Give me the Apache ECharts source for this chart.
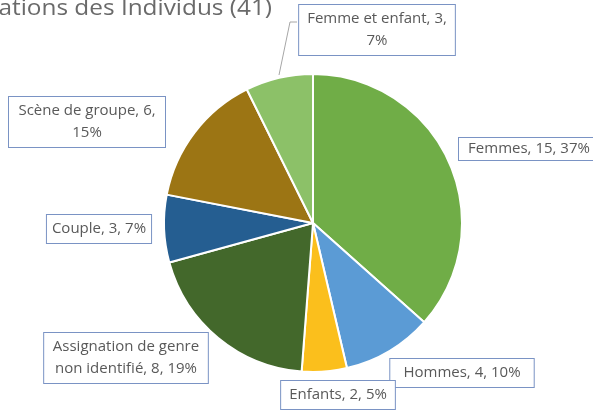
<!DOCTYPE html>
<html>
<head>
<meta charset="utf-8">
<script src="https://cdn.jsdelivr.net/npm/echarts@6/dist/echarts.min.js"></script>
<style>
  html, body { margin: 0; padding: 0; background: #fff; }
  #main { width: 593px; height: 410px; }
</style>
</head>
<body>
<div id="main"></div>
<script>
// données
var categories = ['Femmes', 'Hommes', 'Enfants', 'Assignation de genre non identifié', 'Couple', 'Scène de groupe', 'Femme et enfant'];
var counts = [15, 4, 2, 8, 3, 6, 3];
var percents = [37, 10, 5, 19, 7, 15, 7];
var colors = ['#70ad47', '#5b9bd5', '#fbbf1c', '#43682b', '#255e91', '#9c7514', '#8cc168'];

// centres des étiquettes (comme dans Excel)
var labelPos = [[529, 149], [462, 373], [338, 395], [126, 358], [99, 229], [87, 122], [377, 30]];

var myChart = echarts.init(document.getElementById('main'));

myChart.setOption({
    animation: false,
    graphic: [{
        type: 'text',
        x: 272,
        y: -1,
        scaleX: 1.16,
        style: {
            text: 'Représentations des Individus (41)',
            textAlign: 'right',
            font: '21px "Open Sans"',
            fill: '#6a6a6a'
        }
    }],
    series: [{
        type: 'pie',
        center: [313, 223],
        radius: 149,
        startAngle: 90,
        clockwise: true,
        itemStyle: { borderColor: '#fff', borderWidth: 2 },
        label: {
            show: true,
            position: 'outside',
            overflow: 'none',
            fontFamily: 'Open Sans',
            fontSize: 15,
            lineHeight: 22,
            color: '#595959',
            backgroundColor: '#fff',
            borderColor: '#7a93c4',
            borderWidth: 1,
            padding: [3, 8],
            align: 'center',
            formatter: function (p) {
                var i = p.dataIndex;
                if (i === 3) return 'Assignation de genre\nnon identifié, ' + counts[i] + ', ' + percents[i] + '%';
                if (i === 5 || i === 6) return categories[i] + ', ' + counts[i] + ',\n' + percents[i] + '%';
                return categories[i] + ', ' + counts[i] + ', ' + percents[i] + '%';
            }
        },
        labelLine: { show: false, lineStyle: { color: '#a6a6a6', width: 1 } },
        labelLayout: function (params) {
            var i = params.dataIndex;
            var pos = labelPos[i];
            var res = { x: pos[0], y: pos[1], align: 'center', verticalAlign: 'middle' };
            if (i === 6) res.labelLinePoints = [[279, 75], [290, 22], [297, 22]];
            return res;
        },
        data: categories.map(function (c, i) {
            var d = { name: c, value: counts[i], itemStyle: { color: colors[i] } };
            if (i === 0) d.label = { width: 124, padding: [0, 8] };
            if (i === 5) d.label = { width: 140 };
            if (i === 6) d.labelLine = { show: true };
            return d;
        })
    }]
});
</script>
</body>
</html>
